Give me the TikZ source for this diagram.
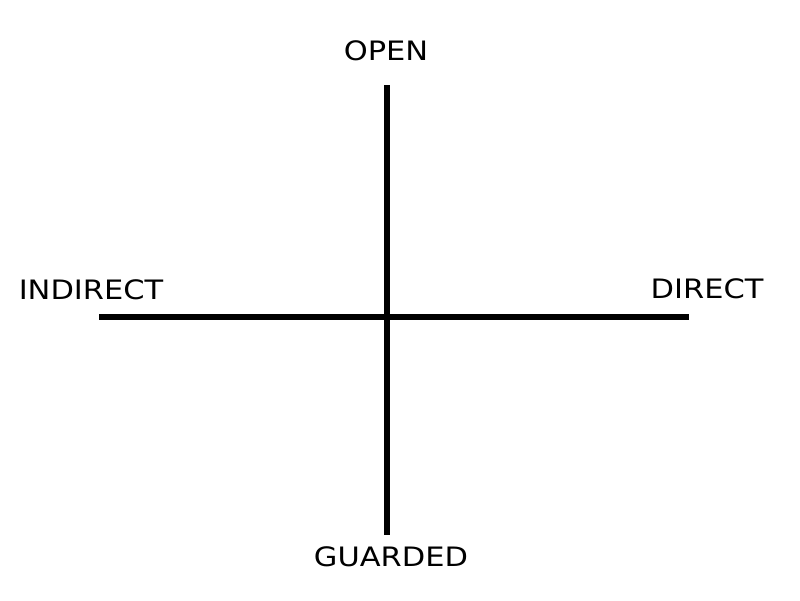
\documentclass[tikz,border=0pt]{standalone}
\usepackage{fontspec}
\setmainfont{DejaVu Sans}[FakeStretch=1.14]
\usetikzlibrary{backgrounds}

\tikzset{
  axis line/.style={line width=3.6pt, black},
  pole/.style={font=\fontsize{19}{22}\selectfont, inner sep=0pt, anchor=base}
}

\begin{document}
\begin{tikzpicture}[x=0.025cm, y=-0.025cm]
\useasboundingbox (0,0) rectangle (800,600);
\coordinate (top) at (387, 85);
\coordinate (bottom) at (387, 535);
\coordinate (left) at (99, 317);
\coordinate (right) at (689, 317);
\draw[axis line] (top) -- (bottom);
\draw[axis line] (left) -- (right);
\node[pole] (open) at (386, 60) {OPEN};
\node[pole] (guarded) at (391, 566) {GUARDED};
\node[pole] (indirect) at (91, 299) {INDIRECT};
\node[pole] (direct) at (707, 298) {DIRECT};
\end{tikzpicture}
\end{document}
